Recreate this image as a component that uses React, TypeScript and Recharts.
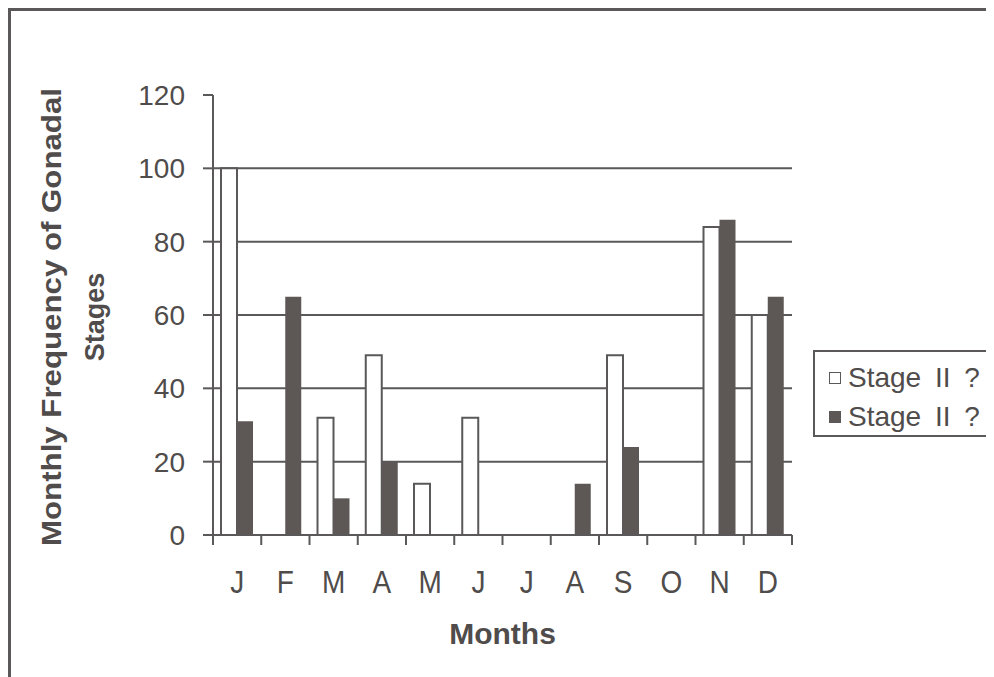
import { Bar, BarChart, CartesianGrid, Legend, XAxis, YAxis } from "recharts";

const months = ["J", "F", "M", "A", "M", "J", "J", "A", "S", "O", "N", "D"];
const stageOpen = [100, 0, 32, 49, 14, 32, 0, 0, 49, 0, 84, 60];
const stageFilled = [31, 65, 10, 20, 0, 0, 0, 14, 24, 0, 86, 65];
const seriesNames = ["Stage II ?", "Stage II ?"];
const yTicks = [0, 20, 40, 60, 80, 100, 120];
const gridValues = [20, 40, 60, 80, 100];

const INK = "#4f4c4b";
const LINE = "#5a5858";
const FILLED = "#5d5856";
const FONT = "'Liberation Sans', Arial, sans-serif";

const data = months.map((m, i) => ({
    month: m,
    open: stageOpen[i],
    filled: stageFilled[i],
}));

function MonthTick(props: any) {
    const { x, y, payload, index } = props;
    const band = (props.width || 579) / months.length;
    const last = index === months.length - 1;
    return (
        <g>
            <line x1={x - band / 2} x2={x - band / 2} y1={y} y2={y + 10} stroke={LINE} strokeWidth={2} />
            {last && <line x1={x + band / 2} x2={x + band / 2} y1={y} y2={y + 10} stroke={LINE} strokeWidth={2} />}
            <text
                transform={`translate(${x},${y + 47}) scale(1,1.12)`}
                textAnchor="middle"
                dominantBaseline="central"
                fill={INK}
                fontSize={28}
                fontFamily={FONT}
            >
                {payload.value}
            </text>
        </g>
    );
}

function MonthsTitle(props: any) {
    const { viewBox } = props;
    return (
        <text
            x={viewBox.x + viewBox.width / 2}
            y={viewBox.y + 98}
            textAnchor="middle"
            dominantBaseline="central"
            fill={INK}
            fontSize={30}
            fontWeight="bold"
            fontFamily={FONT}
        >
            Months
        </text>
    );
}

function YTitle(props: any) {
    const { viewBox } = props;
    const cy = viewBox.y + viewBox.height / 2 + 2;
    const x1 = viewBox.x + 44;
    const x2 = viewBox.x + 87;
    return (
        <g fill={INK} fontSize={27} fontWeight="bold" fontFamily={FONT}>
            <text x={x1} y={cy} transform={`rotate(-90, ${x1}, ${cy})`} textAnchor="middle" dominantBaseline="central"
                  textLength={458} lengthAdjust="spacingAndGlyphs">
                Monthly Frequency of Gonadal
            </text>
            <text x={x2} y={cy} transform={`rotate(-90, ${x2}, ${cy})`} textAnchor="middle" dominantBaseline="central">
                Stages
            </text>
        </g>
    );
}

function BoxLegend(props: any) {
    const { payload } = props;
    return (
        <div style={{
            border: `2px solid ${LINE}`, background: "#fff", padding: "6px 0 3px 14px",
            fontFamily: FONT, fontSize: 28, color: INK, boxSizing: "border-box", height: 87,
        }}>
            {(payload || []).map((entry: any, i: number) => (
                <div key={i} style={{ height: 39, display: "flex", alignItems: "center", whiteSpace: "pre" }}>
                    <span style={{
                        display: "inline-block", width: 10, height: 10, marginRight: 7,
                        background: entry.color, border: `1px solid ${LINE}`,
                    }} />
                    <span style={{ wordSpacing: 6 }}>{entry.value}</span>
                </div>
            ))}
        </div>
    );
}

export default function App() {
    return (
        <div style={{ position: "relative", width: 986, height: 669 }}>
            <div style={{
                position: "absolute", left: 0, top: 0, width: 986, height: 669,
                borderTop: `3px solid ${LINE}`, borderLeft: `3px solid ${LINE}`, boxSizing: "border-box",
            }} />
            <BarChart
                width={986}
                height={669}
                data={data}
                margin={{ top: 87, right: 202, bottom: 32, left: 0 }}
                barCategoryGap={8}
                barGap={0}
                style={{ position: "absolute", left: 0, top: 0 }}
            >
                <CartesianGrid
                    vertical={false}
                    stroke={LINE}
                    strokeWidth={2}
                    horizontalValues={gridValues}
                />
                <XAxis
                    dataKey="month"
                    height={110}
                    tickSize={0}
                    tickMargin={0}
                    tickLine={false}
                    axisLine={{ stroke: LINE, strokeWidth: 2 }}
                    tick={<MonthTick />}
                    interval={0}
                    label={<MonthsTitle />}
                />
                <YAxis
                    width={205}
                    domain={[0, 120]}
                    ticks={yTicks}
                    interval={0}
                    tickSize={10}
                    tickMargin={18}
                    axisLine={{ stroke: LINE, strokeWidth: 2 }}
                    tickLine={{ stroke: LINE, strokeWidth: 2 }}
                    tick={{ fill: INK, fontSize: 28, fontFamily: FONT }}
                    label={<YTitle />}
                />
                <Legend
                    layout="vertical"
                    align="center"
                    verticalAlign="middle"
                    content={<BoxLegend />}
                    wrapperStyle={{ left: 805, top: 342, width: 181 }}
                />
                <Bar dataKey="open" name={seriesNames[0]} fill="#ffffff" stroke={LINE} strokeWidth={2} isAnimationActive={false} />
                <Bar dataKey="filled" name={seriesNames[1]} fill={FILLED} isAnimationActive={false} />
            </BarChart>
        </div>
    );
}
